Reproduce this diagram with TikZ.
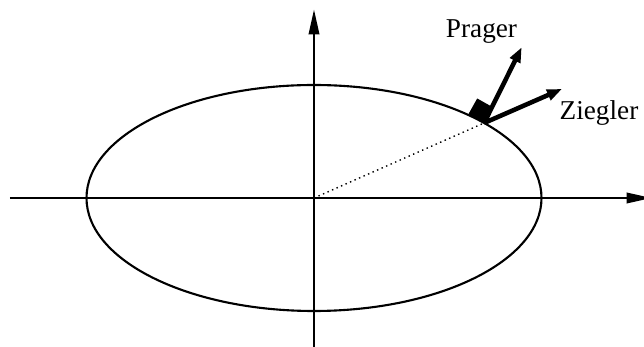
\documentclass[tikz,border=0pt]{standalone}
\usepackage{fontspec}
\setmainfont{Liberation Serif}
\usetikzlibrary{arrows.meta, calc}

\begin{document}
\begin{tikzpicture}[>={Triangle[length=0.5cm, width=0.21cm]}]

\definecolor{axiscolor}{RGB}{0, 0, 0}
\tikzset{
  axis/.style={->, line width=1.2pt, axiscolor},
  yieldarrow/.style={-{Triangle[length=0.3cm, width=0.22cm]}, line width=2.6pt},
  label/.style={font=\fontsize{15.5}{18}\selectfont, inner sep=0pt}
}

\useasboundingbox (-6.28, -2.98) rectangle (6.60, 3.96);

% axes
\coordinate (O) at (0, 0);
\coordinate (xstart) at (-6.08, 0);
\coordinate (xend) at (6.75, 0);
\coordinate (ystart) at (0, -3.10);
\coordinate (yend) at (0, 3.77);
\draw[axis] (xstart) -- (xend);
\draw[axis] (ystart) -- (yend);

% yield surface
\draw[line width=1.2pt] (O) ellipse [x radius=4.55, y radius=2.26];

% point on the surface
\coordinate (P) at ({4.55*cos(41.6)}, {2.26*sin(41.6)});
\draw[dotted, line width=0.8pt] (O) -- (P);

% right angle mark
\fill (P) -- ++(150.8:0.36) -- ++(60.8:0.36) -- ++(-29.2:0.36) -- cycle;

% hardening directions
\coordinate (prager) at ($(P) + (63.6:1.69)$);
\coordinate (ziegler) at ($(P) + (23.6:1.70)$);
\draw[yieldarrow] (P) -- (prager);
\draw[yieldarrow] (P) -- (ziegler);

\node[label] (pragerlabel) at (3.35, 3.33) {Prager};
\node[label] (zieglerlabel) at (5.70, 1.70) {Ziegler};

\end{tikzpicture}
\end{document}
